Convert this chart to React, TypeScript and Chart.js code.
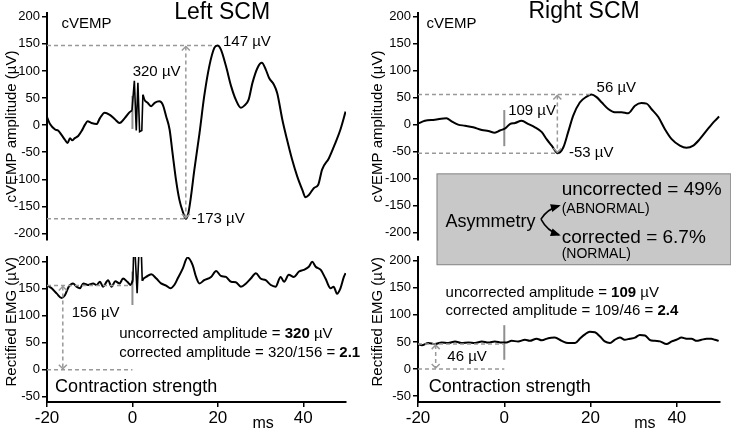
import React, { useEffect, useRef } from "react";
import { Chart, registerables } from "chart.js";

Chart.register(...registerables);

const FONT = '"Liberation Sans", Arial, Helvetica, sans-serif';
Chart.defaults.font.family = FONT;
Chart.defaults.color = "#000";

// ---------------- data ----------------
const timeTicks = [-20, 0, 20, 40];
const cvempTicks = [-200, -150, -100, -50, 0, 50, 100, 150, 200];
const emgTicks = [-50, 0, 50, 100, 150, 200];

// Left SCM cVEMP (ms, µV)
const leftCvempT = [-20, -19.3, -18.1, -17.4, -16.6, -15.8, -15.2, -14.6, -14.1, -13.5, -12.7, -11.9, -11.1, -10.5, -9.6, -8.4, -7.6, -6.5, -5.3, -4.1, -3.0, -1.8, -0.65, -0.1, 0.45, 0.9, 1.28, 1.68, 2.2, 2.45, 2.8, 3.6, 4.4, 5.2, 6.3, 7.1, 7.9, 8.7, 9.4, 10.2, 11.0, 11.8, 12.5, 13.1, 13.7, 14.5, 15.7, 16.8, 18.0, 19.2, 19.9, 20.7, 21.9, 23.1, 24.2, 25.4, 26.2, 27.2, 28.1, 29.3, 30.3, 31.2, 32.0, 33.1, 33.9, 35.1, 36.2, 37.4, 38.6, 39.8, 40.5, 41.3, 42.5, 43.5, 44.4, 46.0, 47.5, 48.7, 49.9];
const leftCvempV = [15, 2, -8, -10, -18, -27, -33, -24, -28, -24, -20, -11, 1, 7, 4, 2, 13, 23, 19, 11, 4, 13, 24, 27, 82, -10, 78, -12, -10, 56, 47, 41, 35, 41, 44, 38, 16, -8, -52, -101, -138, -160, -173, -162, -132, -82, -15, 53, 109, 143, 147, 140, 109, 72, 47, 32, 36, 47, 78, 106, 115, 103, 87, 75, 59, 10, -27, -64, -95, -120, -133, -129, -116, -110, -82, -61, -33, -8, 25];

// Right SCM cVEMP
const rightCvempT = [-20, -18.4, -16.1, -13.4, -12.2, -10.7, -9.1, -7.2, -5.2, -3.7, -2.2, -1.0, 0.2, 1.3, 2.5, 4.0, 5.6, 7.1, 8.7, 9.8, 11.0, 12.4, 13.7, 14.8, 16.0, 17.5, 19.1, 20.2, 21.4, 22.6, 24.1, 25.6, 27.2, 28.7, 30.3, 31.8, 33.0, 34.1, 35.7, 37.2, 38.8, 40.7, 42.2, 43.8, 45.3, 47.2, 48.8, 49.8];
const rightCvempV = [2, 7, 9, 12, 6, 0, -2, -5, -10, -12, -15, -11, -7, 1, 3, 7, 1, -5, -14, -27, -39, -53, -42, -14, 17, 41, 52, 56, 51, 41, 29, 23, 23, 21, 35, 40, 39, 29, 14, -8, -27, -39, -43, -39, -27, -8, 7, 15];

// Left SCM rectified EMG
const leftEmgT = [-20, -18.9, -17.7, -16.6, -15.8, -14.9, -13.9, -13.1, -12.3, -11.5, -10.4, -9.2, -8.4, -7.6, -6.9, -5.7, -4.9, -4.0, -3.0, -2.2, -1.2, -0.4, 0.1, 0.4, 0.6, 1.1, 1.3, 1.7, 1.95, 2.3, 2.6, 3.2, 4.4, 5.6, 6.7, 7.9, 8.9, 9.8, 10.6, 11.8, 12.9, 14.1, 14.9, 15.7, 16.8, 18.4, 19.6, 20.7, 21.9, 23.1, 24.2, 25.4, 26.6, 27.7, 28.9, 30.0, 31.2, 32.4, 33.5, 34.7, 35.5, 36.6, 37.8, 39.0, 40.1, 41.3, 42.1, 42.9, 44.1, 45.2, 46.4, 47.1, 47.9, 48.7, 49.5, 49.9];
const leftEmgV = [157, 151, 141, 133, 138, 154, 160, 154, 151, 160, 157, 160, 157, 163, 154, 166, 154, 164, 160, 169, 163, 157, 166, 250, 250, 142, 142, 250, 250, 165, 169, 172, 177, 169, 160, 156, 151, 157, 169, 188, 208, 194, 172, 160, 166, 172, 183, 174, 172, 163, 162, 154, 160, 169, 179, 169, 166, 157, 154, 172, 163, 176, 172, 182, 185, 191, 200, 191, 185, 169, 151, 154, 141, 151, 172, 179];

// Right SCM rectified EMG
const rightEmgT = [-20, -19.1, -17.6, -16.1, -14.5, -13.0, -11.4, -9.9, -8.3, -6.8, -5.2, -3.7, -2.2, -0.6, 0.5, 1.7, 3.2, 4.8, 5.9, 7.5, 8.7, 10.2, 11.7, 13.3, 14.8, 16.4, 17.5, 18.7, 19.8, 21.0, 22.2, 23.3, 24.5, 25.6, 26.8, 27.9, 29.1, 30.3, 31.4, 32.6, 33.7, 34.9, 36.1, 37.6, 38.8, 39.9, 41.1, 42.2, 43.4, 44.6, 45.7, 46.9, 48.0, 48.8, 49.7];
const rightEmgV = [46, 44, 48, 46, 49, 48, 51, 48, 49, 48, 51, 49, 51, 49, 49, 52, 51, 54, 52, 56, 53, 57, 58, 52, 48, 48, 56, 64, 69, 68, 60, 51, 48, 54, 58, 54, 56, 58, 63, 62, 54, 52, 51, 46, 51, 54, 58, 56, 56, 52, 54, 56, 56, 54, 52];

// stimulus markers (t = 0)
const leftCvempStim = [-7, 54];
const rightCvempStim = [-40, 27];
const leftEmgStim = [120, 182];
const rightEmgStim = [17, 81];

// annotated values
const leftPeakPos = 147, leftPeakNeg = -173;
const rightPeakPos = 56, rightPeakNeg = -53;
const leftEmgLevel = 156, rightEmgLevel = 46;

// ---------------- helpers ----------------
const pts = (t: number[], v: number[]) => t.map((x, i) => ({ x, y: v[i] }));
const stim = (v: number[]) => [{ x: 0, y: v[0] }, { x: 0, y: v[1] }];

interface Part { text: string; bold?: boolean }
interface Note { x: number; y: number; parts: Part[]; size: number; align?: "left" | "center" }
interface Guide { y: number; x1: number; x2: number }
interface VArrow { x: number; y1: number; y2: number }
interface Spec {
  notes: Note[];
  guides: Guide[];
  arrows: VArrow[];
  box?: { x1: number; x2: number; y1: number; y2: number };
  fork?: { from: [number, number]; to: [number, number][] };
}

const t = (s: string, bold = false): Part => ({ text: s, bold });
const GUIDE = "#999999";

function annotPlugin(spec: Spec) {
  return {
    id: "annot",
    afterDatasetsDraw(chart: any) {
      const ctx: CanvasRenderingContext2D = chart.ctx;
      const sx = chart.scales.x, sy = chart.scales.y;
      const X = (v: number) => sx.getPixelForValue(v);
      const Y = (v: number) => sy.getPixelForValue(v);
      ctx.save();
      if (spec.box) {
        const b = spec.box;
        const x1 = X(b.x1), x2 = X(b.x2), y1 = Y(b.y1), y2 = Y(b.y2);
        ctx.fillStyle = "#c8c8c8";
        ctx.fillRect(x1, y1, x2 - x1, y2 - y1);
        ctx.strokeStyle = "#8a8a8a";
        ctx.lineWidth = 1;
        ctx.strokeRect(x1 + 0.5, y1 + 0.5, x2 - x1 - 1, y2 - y1 - 1);
      }
      ctx.strokeStyle = GUIDE;
      ctx.lineWidth = 1.5;
      ctx.setLineDash([4, 3]);
      for (const g of spec.guides) {
        ctx.beginPath();
        ctx.moveTo(X(g.x1), Y(g.y));
        ctx.lineTo(X(g.x2), Y(g.y));
        ctx.stroke();
      }
      for (const a of spec.arrows) {
        const x = X(a.x);
        const top = Math.min(Y(a.y1), Y(a.y2));
        const bot = Math.max(Y(a.y1), Y(a.y2));
        ctx.setLineDash([4, 3]);
        ctx.beginPath();
        ctx.moveTo(x, top + 1);
        ctx.lineTo(x, bot - 1);
        ctx.stroke();
        ctx.setLineDash([]);
        ctx.beginPath();
        ctx.moveTo(x - 4, top + 5);
        ctx.lineTo(x, top + 1);
        ctx.lineTo(x + 4, top + 5);
        ctx.moveTo(x - 4, bot - 5);
        ctx.lineTo(x, bot - 1);
        ctx.lineTo(x + 4, bot - 5);
        ctx.stroke();
      }
      ctx.setLineDash([]);
      if (spec.fork) {
        const ox = X(spec.fork.from[0]), oy = Y(spec.fork.from[1]);
        ctx.strokeStyle = "#000";
        ctx.fillStyle = "#000";
        ctx.lineWidth = 1.6;
        for (const tip of spec.fork.to) {
          const tx = X(tip[0]), ty = Y(tip[1]);
          const cx = ox + (tx - ox) * 0.35, cy = oy + (ty - oy) * 0.75;
          ctx.beginPath();
          ctx.moveTo(ox, oy);
          ctx.quadraticCurveTo(cx, cy, tx, ty);
          ctx.stroke();
          const ang = Math.atan2(ty - cy, tx - cx);
          const L = 8, W = 4;
          ctx.beginPath();
          ctx.moveTo(tx + Math.cos(ang) * 2, ty + Math.sin(ang) * 2);
          ctx.lineTo(tx - Math.cos(ang) * L - Math.sin(ang) * W, ty - Math.sin(ang) * L + Math.cos(ang) * W);
          ctx.lineTo(tx - Math.cos(ang) * L + Math.sin(ang) * W, ty - Math.sin(ang) * L - Math.cos(ang) * W);
          ctx.closePath();
          ctx.fill();
        }
      }
      ctx.fillStyle = "#000";
      ctx.textBaseline = "alphabetic";
      ctx.textAlign = "left";
      for (const n of spec.notes) {
        const fonts = n.parts.map((p) => `${p.bold ? "bold " : ""}${n.size}px ${FONT}`);
        const widths = n.parts.map((p, i) => {
          ctx.font = fonts[i];
          return ctx.measureText(p.text).width;
        });
        const total = widths.reduce((a, b) => a + b, 0);
        let x0 = X(n.x);
        if (n.align === "center") x0 -= total / 2;
        const y0 = Y(n.y);
        n.parts.forEach((p, i) => {
          ctx.font = fonts[i];
          ctx.fillText(p.text, x0, y0);
          x0 += widths[i];
        });
      }
      ctx.restore();
    },
  };
}

interface PanelDef {
  datasets: any[];
  yMin: number;
  yMax: number;
  yTicks: number[];
  yTitle: string;
  titleAlign: "center" | "end";
  showX: boolean;
  padding: { left: number; right: number; top: number; bottom: number };
  yWidth: number;
  spec: Spec;
}

const axisGrid = { display: true, drawOnChartArea: false, drawTicks: true, tickLength: 5, color: "#000", lineWidth: 1.5 };
const axisBorder = { display: true, color: "#000", width: 2 };

function lineDs(data: any[]) {
  return { data, borderColor: "#000", borderWidth: 2, pointRadius: 0, cubicInterpolationMode: "monotone", fill: false, order: 1 };
}
function spikeDs(data: any[]) {
  return { data, borderColor: "#000", borderWidth: 1.6, pointRadius: 0, tension: 0, fill: false, order: 1 };
}
function stimDs(data: any[]) {
  return { data, borderColor: "#8f8f8f", borderWidth: 2, pointRadius: 0, fill: false, order: 2 };
}

function buildConfig(p: PanelDef): any {
  return {
    type: "line",
    data: { datasets: p.datasets },
    options: {
      responsive: false,
      animation: false,
      devicePixelRatio: 1,
      layout: { padding: p.padding },
      plugins: { legend: { display: false }, tooltip: { enabled: false } },
      scales: {
        x: {
          type: "linear",
          min: -20,
          max: 50,
          display: p.showX,
          afterBuildTicks: (s: any) => { s.ticks = timeTicks.map((value) => ({ value })); },
          afterFit: (s: any) => { if (p.showX) s.height = 28; },
          ticks: { color: "#000", font: { size: 17 }, padding: 1, maxRotation: 0, autoSkip: false },
          grid: axisGrid,
          border: axisBorder,
        },
        y: {
          min: p.yMin,
          max: p.yMax,
          afterBuildTicks: (s: any) => { s.ticks = p.yTicks.map((value) => ({ value })); },
          afterFit: (s: any) => { s.width = p.yWidth; },
          ticks: { color: "#000", font: { size: 13 }, padding: 2, autoSkip: false },
          grid: axisGrid,
          border: axisBorder,
          title: {
            display: true,
            text: p.yTitle,
            color: "#000",
            font: { size: 15 },
            align: p.titleAlign,
            padding: { top: 3, bottom: 0 },
          },
        },
      },
    },
    plugins: [annotPlugin(p.spec)],
  };
}

const MU = "\u00b5V";

// split a trace so the stimulus artefact is drawn with straight segments
function splitTrace(tt: number[], vv: number[], a: number, b: number) {
  const idx = tt.map((x, i) => i);
  const pre = idx.filter((i) => tt[i] <= a);
  const mid = idx.filter((i) => tt[i] >= tt[pre[pre.length - 1]] && tt[i] <= b);
  const post = idx.filter((i) => tt[i] >= b);
  const mk = (ii: number[]) => ii.map((i) => ({ x: tt[i], y: vv[i] }));
  return [lineDs(mk(pre)), spikeDs(mk(mid)), lineDs(mk(post))];
}

const panels: PanelDef[] = [
  // top-left
  {
    datasets: [...splitTrace(leftCvempT, leftCvempV, -0.1, 2.45), stimDs(stim(leftCvempStim))],
    yMin: -212, yMax: 207, yTicks: cvempTicks, yTitle: "cVEMP amplitude (\u00b5V)", titleAlign: "center",
    showX: false, padding: { left: 0, right: 385, top: 13, bottom: 190 }, yWidth: 47,
    spec: {
      guides: [{ y: leftPeakPos, x1: -20, x2: 19.3 }, { y: leftPeakNeg, x1: -20, x2: 12.6 }],
      arrows: [{ x: 12.5, y1: leftPeakNeg, y2: leftPeakPos }],
      notes: [
        { x: 21.0, y: 196, parts: [t("Left SCM")], size: 23, align: "center" },
        { x: -16.6, y: 178.6, parts: [t("cVEMP")], size: 15 },
        { x: 21.2, y: 146.4, parts: [t("147 " + MU)], size: 15 },
        { x: 0.06, y: 90.5, parts: [t("320 " + MU)], size: 15 },
        { x: 13.9, y: -181.5, parts: [t("-173 " + MU)], size: 15 },
      ],
    },
  },
  // bottom-left
  {
    datasets: [...splitTrace(leftEmgT, leftEmgV, 0.1, 2.3), stimDs(stim(leftEmgStim))],
    yMin: -60, yMax: 209, yTicks: emgTicks, yTitle: "Rectified EMG (\u00b5V)", titleAlign: "end",
    showX: true, padding: { left: 0, right: 385, top: 257, bottom: 0 }, yWidth: 47,
    spec: {
      guides: [{ y: leftEmgLevel, x1: -20, x2: 0 }, { y: 0, x1: -20, x2: 0 }],
      arrows: [{ x: -16.3, y1: 0, y2: leftEmgLevel }],
      notes: [
        { x: -14.2, y: 97, parts: [t("156 " + MU)], size: 15 },
        { x: -3.1, y: 58.1, parts: [t("uncorrected amplitude = "), t("320", true), t(" " + MU)], size: 15 },
        { x: -3.1, y: 24, parts: [t("corrected amplitude = 320/156 = "), t("2.1", true)], size: 15 },
        { x: -18.1, y: -40.7, parts: [t("Contraction strength")], size: 18 },
        { x: 30.6, y: -108.5, parts: [t("ms")], size: 16, align: "center" },
      ],
    },
  },
  // bottom-right
  {
    datasets: [lineDs(pts(rightEmgT, rightEmgV)), stimDs(stim(rightEmgStim))],
    yMin: -61, yMax: 207, yTicks: emgTicks, yTitle: "Rectified EMG (\u00b5V)", titleAlign: "end",
    showX: true, padding: { left: 366, right: 11, top: 257, bottom: 0 }, yWidth: 52,
    spec: {
      guides: [{ y: rightEmgLevel, x1: -20, x2: 0 }, { y: 0, x1: -20, x2: 0 }],
      arrows: [{ x: -15.9, y1: 0, y2: rightEmgLevel }],
      notes: [
        { x: -13.2, y: 14.3, parts: [t("46 " + MU)], size: 15 },
        { x: -13.6, y: 132.2, parts: [t("uncorrected amplitude = "), t("109", true), t(" " + MU)], size: 15 },
        { x: -13.6, y: 99.4, parts: [t("corrected amplitude = 109/46 = "), t("2.4", true)], size: 15 },
        { x: -17.5, y: -42.6, parts: [t("Contraction strength")], size: 18 },
        { x: 32.6, y: -109, parts: [t("ms")], size: 16, align: "center" },
      ],
    },
  },
  // top-right
  {
    datasets: [lineDs(pts(rightCvempT, rightCvempV)), stimDs(stim(rightCvempStim))],
    yMin: -214, yMax: 207, yTicks: cvempTicks, yTitle: "cVEMP amplitude (\u00b5V)", titleAlign: "center",
    showX: false, padding: { left: 366, right: 11, top: 13, bottom: 190 }, yWidth: 52,
    spec: {
      box: { x1: -15.7, x2: 52.6, y1: -90.5, y2: -260.7 },
      fork: { from: [8.5, -175.3], to: [[12.65, -150.7], [12.65, -204.5]] },
      guides: [{ y: rightPeakPos, x1: -20, x2: 20.5 }, { y: rightPeakNeg, x1: -20, x2: 12.5 }],
      arrows: [{ x: 12.3, y1: rightPeakNeg, y2: rightPeakPos }],
      notes: [
        { x: 18.5, y: 197, parts: [t("Right SCM")], size: 23, align: "center" },
        { x: -18.05, y: 178.5, parts: [t("cVEMP")], size: 15 },
        { x: 21.4, y: 60.9, parts: [t("56 " + MU)], size: 15 },
        { x: 0.9, y: 17.6, parts: [t("109 " + MU)], size: 15 },
        { x: 15.0, y: -60.9, parts: [t("-53 " + MU)], size: 15 },
        { x: -13.6, y: -189.6, parts: [t("Asymmetry")], size: 18 },
        { x: 13.3, y: -130.8, parts: [t("uncorrected = 49%")], size: 19 },
        { x: 13.3, y: -164.7, parts: [t("(ABNORMAL)")], size: 14 },
        { x: 13.3, y: -220.4, parts: [t("corrected = 6.7%")], size: 19 },
        { x: 13.3, y: -248.2, parts: [t("(NORMAL)")], size: 14 },
      ],
    },
  },
];

export default function App() {
  const refs = useRef<(HTMLCanvasElement | null)[]>([]);
  useEffect(() => {
    const charts = panels.map((p, i) => new Chart(refs.current[i] as HTMLCanvasElement, buildConfig(p)));
    return () => charts.forEach((c) => c.destroy());
  }, []);
  return (
    <div style={{ position: "absolute", left: 0, top: 0, width: 731, height: 430, background: "#fff", overflow: "hidden" }}>
      {panels.map((_, i) => (
        <canvas
          key={i}
          ref={(el) => { refs.current[i] = el; }}
          width={731}
          height={430}
          style={{ position: "absolute", left: 0, top: 0, width: 731, height: 430, display: "block" }}
        />
      ))}
    </div>
  );
}
